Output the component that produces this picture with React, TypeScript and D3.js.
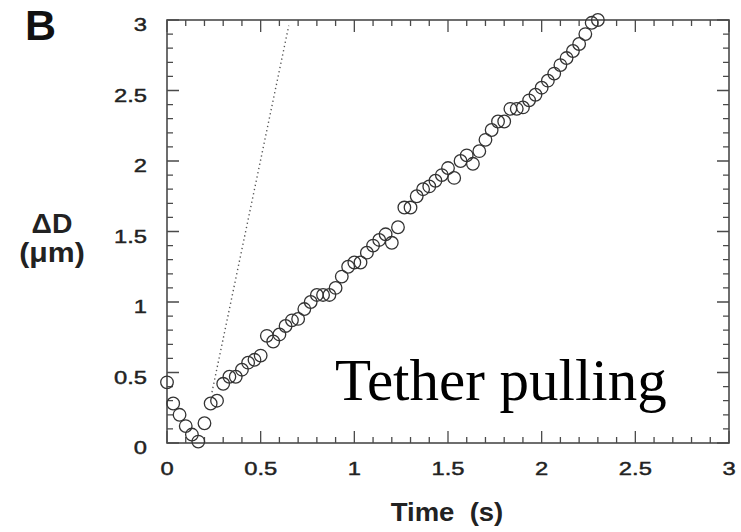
import React from "react";
import * as d3 from "d3";

// Bead displacement during tether pulling, sampled at video rate
const times = [
  0, 0.033, 0.067, 0.1, 0.133, 0.167, 0.2, 0.233, 0.267, 0.3,
  0.333, 0.367, 0.4, 0.433, 0.467, 0.5, 0.533, 0.567, 0.6, 0.633,
  0.667, 0.7, 0.733, 0.767, 0.8, 0.833, 0.867, 0.9, 0.933, 0.967,
  1.0, 1.033, 1.067, 1.1, 1.133, 1.167, 1.2, 1.233, 1.267, 1.3,
  1.333, 1.367, 1.4, 1.433, 1.467, 1.5, 1.533, 1.567, 1.6, 1.633,
  1.667, 1.7, 1.733, 1.767, 1.8, 1.833, 1.867, 1.9, 1.933, 1.967,
  2.0, 2.033, 2.067, 2.1, 2.133, 2.167, 2.2, 2.233, 2.267, 2.3,
];
const displacement = [
  0.43, 0.28, 0.2, 0.12, 0.06, 0.01, 0.14, 0.28, 0.3, 0.42,
  0.47, 0.47, 0.52, 0.57, 0.59, 0.62, 0.76, 0.72, 0.77, 0.83,
  0.87, 0.88, 0.95, 1.0, 1.05, 1.05, 1.05, 1.1, 1.18, 1.25,
  1.28, 1.28, 1.35, 1.4, 1.44, 1.48, 1.42, 1.53, 1.67, 1.67,
  1.75, 1.8, 1.82, 1.86, 1.9, 1.95, 1.88, 2.0, 2.04, 1.98,
  2.07, 2.15, 2.22, 2.28, 2.28, 2.37, 2.37, 2.38, 2.43, 2.47,
  2.52, 2.57, 2.62, 2.68, 2.73, 2.78, 2.83, 2.9, 2.98, 3.0,
];

// Reference slope line (dotted)
const refLineT = [0.24, 0.65];
const refLineD = [0.36, 2.96];

const xTickLabels = ["0", "0.5", "1", "1.5", "2", "2.5", "3"];
const yTickLabels = ["0", "0.5", "1", "1.5", "2", "2.5", "3"];

const W = 741;
const H = 532;
const plotLeft = 167;
const plotRight = 729;
const plotTop = 20;
const plotBottom = 443;

const sans = "'Liberation Sans', Arial, Helvetica, sans-serif";

// Wide, slightly heavy sans label (stretched horizontally)
function WideText(props: {
  x: number;
  y: number;
  anchor: "start" | "middle" | "end";
  size: number;
  sx: number;
  bold?: boolean;
  children: React.ReactNode;
}) {
  return (
    <text
      transform={`translate(${props.x},${props.y}) scale(${props.sx},1)`}
      textAnchor={props.anchor}
      fontFamily={sans}
      fontWeight={props.bold ? "bold" : "normal"}
      fontSize={props.size}
      fill="#222"
      stroke="#222"
      strokeWidth={props.bold ? 0 : 0.45}
      style={{ whiteSpace: "pre" }}
    >
      {props.children}
    </text>
  );
}

export default function App() {
  const x = d3.scaleLinear().domain([0, 3]).range([plotLeft, plotRight]);
  const y = d3.scaleLinear().domain([0, 3]).range([plotBottom, plotTop]);

  const tickVals = d3.range(0, 31).map((i) => i / 10);
  const majorLen = 12;
  const minorLen = 6;

  // Inward ticks on all four sides as one path
  const tickPath = d3.path();
  tickVals.forEach((v, i) => {
    const len = i % 5 === 0 ? majorLen : minorLen;
    const px = x(v);
    const py = y(v);
    tickPath.moveTo(px, plotBottom);
    tickPath.lineTo(px, plotBottom - len);
    tickPath.moveTo(px, plotTop);
    tickPath.lineTo(px, plotTop + len);
    tickPath.moveTo(plotLeft, py);
    tickPath.lineTo(plotLeft + len, py);
    tickPath.moveTo(plotRight, py);
    tickPath.lineTo(plotRight - len, py);
  });

  const line = d3
    .line<number>()
    .x((_, i) => x(refLineT[i]))
    .y((d) => y(d));

  const axisColor = "#4a4a4a";

  return (
    <svg
      width={W}
      height={H}
      style={{ position: "absolute", left: 0, top: 0, background: "#fff" }}
    >
      <path
        d={tickPath.toString()}
        fill="none"
        stroke={axisColor}
        strokeWidth={1.3}
      />
      <rect
        x={plotLeft}
        y={plotTop}
        width={plotRight - plotLeft}
        height={plotBottom - plotTop}
        fill="none"
        stroke={axisColor}
        strokeWidth={1.6}
      />
      {xTickLabels.map((s) => (
        <WideText key={"xl" + s} x={x(+s)} y={plotBottom + 32} anchor="middle" size={19} sx={1.25}>
          {s}
        </WideText>
      ))}
      {yTickLabels.map((s) => (
        <WideText key={"yl" + s} x={147} y={y(+s) + 11} anchor="end" size={19} sx={1.25}>
          {s}
        </WideText>
      ))}
      <path
        d={line(refLineD) || ""}
        fill="none"
        stroke="#555"
        strokeWidth={1.4}
        strokeDasharray="1.3 3"
      />
      {times.map((t, i) => (
        <circle
          key={"p" + i}
          cx={x(t)}
          cy={y(displacement[i])}
          r={6.3}
          fill="none"
          stroke="#333"
          strokeWidth={1.3}
        />
      ))}
      <text x={25} y={40} fontFamily={sans} fontWeight="bold" fontSize={43} fill="#111">
        B
      </text>
      <WideText x={52} y={233} anchor="middle" size={27} sx={1.05} bold>
        ΔD
      </WideText>
      <WideText x={52} y={262} anchor="middle" size={27} sx={1.12} bold>
        (μm)
      </WideText>
      <WideText x={447} y={521} anchor="middle" size={25} sx={1.1} bold>
        {"Time  (s)"}
      </WideText>
      <text
        x={335}
        y={400}
        fontFamily="'Liberation Serif', 'Times New Roman', serif"
        fontSize={59}
        fill="#000"
      >
        Tether pulling
      </text>
    </svg>
  );
}
